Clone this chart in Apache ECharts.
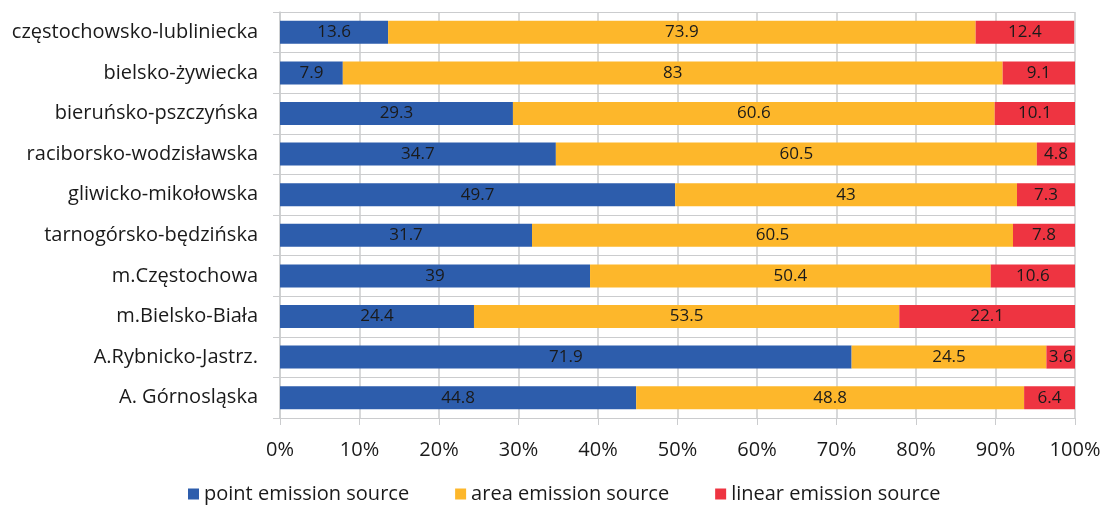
<!DOCTYPE html>
<html>
<head>
<meta charset="utf-8">
<title>Emission sources by zone</title>
<script src="https://cdn.jsdelivr.net/npm/echarts@6/dist/echarts.min.js"></script>
<style>
  html, body { margin: 0; padding: 0; background: #ffffff; }
  #chart { width: 1105px; height: 505px; }
</style>
</head>
<body>
<div id="chart"></div>
<script>
// Zones, listed top to bottom
const zones = [
  'częstochowsko-lubliniecka',
  'bielsko-żywiecka',
  'bieruńsko-pszczyńska',
  'raciborsko-wodzisławska',
  'gliwicko-mikołowska',
  'tarnogórsko-będzińska',
  'm.Częstochowa',
  'm.Bielsko-Biała',
  'A.Rybnicko-Jastrz.',
  'A. Górnosląska'
];

// Share of emissions (%) by source type
const pointSource  = [13.6, 7.9, 29.3, 34.7, 49.7, 31.7, 39.0, 24.4, 71.9, 44.8];
const areaSource   = [73.9, 83.0, 60.6, 60.5, 43.0, 60.5, 50.4, 53.5, 24.5, 48.8];
const linearSource = [12.4, 9.1, 10.1, 4.8, 7.3, 7.8, 10.6, 22.1, 3.6, 6.4];

const seriesNames = ['point emission source', 'area emission source', 'linear emission source'];
const seriesColors = ['#2D5DAC', '#FDB72B', '#EE3441'];

const FONT = '"Open Sans", "DejaVu Sans", sans-serif';
const GRID_COLOR = '#cbccce';
const TEXT_COLOR = '#1a1a1a';

function barSeries(name, values, color) {
  return {
    name: name,
    type: 'bar',
    stack: 'total',
    barWidth: 23,
    data: values,
    itemStyle: { color: color },
    label: {
      show: true,
      position: 'inside',
      color: TEXT_COLOR,
      fontFamily: FONT,
      fontSize: 17,
      formatter: p => String(p.value)
    },
    emphasis: { disabled: true }
  };
}

const chart = echarts.init(document.getElementById('chart'), null, { renderer: 'canvas' });

chart.setOption({
  animation: false,
  backgroundColor: '#ffffff',
  grid: { left: 280, right: 30, top: 12, bottom: 87, containLabel: false },
  legend: {
    top: 484,
    left: 188,
    icon: 'rect',
    itemWidth: 11,
    itemHeight: 11,
    itemGap: 46,
    padding: 0,
    textStyle: { fontFamily: FONT, fontSize: 20, color: TEXT_COLOR },
    data: seriesNames
  },
  xAxis: {
    type: 'value',
    min: 0,
    max: 100,
    interval: 10,
    axisLine: { show: true, lineStyle: { color: GRID_COLOR, width: 1 } },
    axisTick: { show: true, length: 7, lineStyle: { color: GRID_COLOR } },
    splitLine: { show: true, lineStyle: { color: GRID_COLOR, width: 1.5 } },
    axisLabel: {
      formatter: '{value}%',
      margin: 22,
      fontFamily: FONT,
      fontSize: 20,
      color: TEXT_COLOR
    }
  },
  yAxis: {
    type: 'category',
    inverse: true,
    data: zones,
    axisLine: { show: true, lineStyle: { color: GRID_COLOR, width: 1.5 } },
    axisTick: { show: true, length: 7, lineStyle: { color: GRID_COLOR } },
    splitLine: { show: true, lineStyle: { color: GRID_COLOR, width: 1 } },
    axisLabel: {
      margin: 22,
      fontFamily: FONT,
      fontSize: 20,
      color: TEXT_COLOR
    }
  },
  series: [
    barSeries(seriesNames[0], pointSource, seriesColors[0]),
    barSeries(seriesNames[1], areaSource, seriesColors[1]),
    barSeries(seriesNames[2], linearSource, seriesColors[2])
  ]
});
</script>
</body>
</html>
